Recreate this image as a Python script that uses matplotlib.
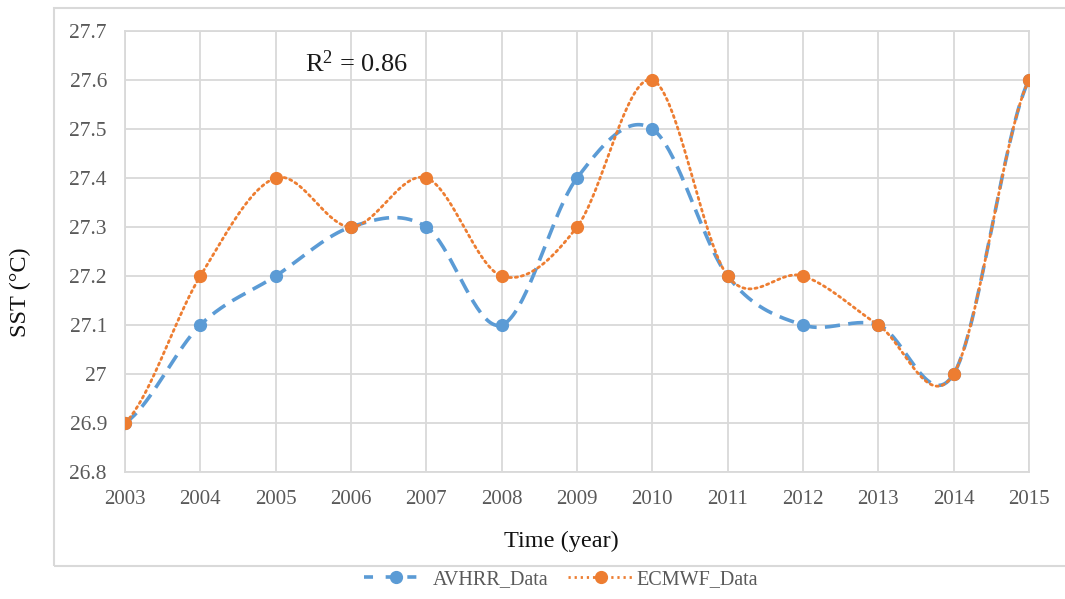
import numpy as np
import matplotlib
matplotlib.use("Agg")
import matplotlib.pyplot as plt
from matplotlib.patches import Rectangle
from matplotlib.lines import Line2D

years = [2003, 2004, 2005, 2006, 2007, 2008, 2009, 2010, 2011, 2012, 2013, 2014, 2015]
avhrr = [26.9, 27.1, 27.2, 27.3, 27.3, 27.1, 27.4, 27.5, 27.2, 27.1, 27.1, 27.0, 27.6]
ecmwf = [26.9, 27.2, 27.4, 27.3, 27.4, 27.2, 27.3, 27.6, 27.2, 27.2, 27.1, 27.0, 27.6]
y_ticks = [26.8, 26.9, 27.0, 27.1, 27.2, 27.3, 27.4, 27.5, 27.6, 27.7]
r2_label = r"R$^{2}$ = 0.86"

BLUE = "#5B9BD5"
ORANGE = "#ED7D31"
GRID = "#D9D9D9"
TXT = "#595959"

plt.rcParams['font.family'] = ['Liberation Serif', 'DejaVu Serif']
plt.rcParams['mathtext.fontset'] = 'custom'
plt.rcParams['mathtext.rm'] = 'Liberation Serif'
plt.rcParams['mathtext.it'] = 'Liberation Serif:italic'


def smooth(x, y, n=40):
    """Catmull-Rom style smoothing (like Excel's smoothed line) for rendering."""
    x = np.asarray(x, float)
    y = np.asarray(y, float)
    m = np.zeros_like(y)
    m[1:-1] = (y[2:] - y[:-2]) / (x[2:] - x[:-2])
    m[0] = (y[1] - y[0]) / (x[1] - x[0]) * 0.5
    m[-1] = (y[-1] - y[-2]) / (x[-1] - x[-2]) * 0.5
    xs, ys = [], []
    for i in range(len(x) - 1):
        h = x[i + 1] - x[i]
        t = np.linspace(0, 1, n, endpoint=(i == len(x) - 2))
        h00 = 2 * t**3 - 3 * t**2 + 1
        h10 = t**3 - 2 * t**2 + t
        h01 = -2 * t**3 + 3 * t**2
        h11 = t**3 - t**2
        xs.append(x[i] + t * h)
        ys.append(h00 * y[i] + h10 * h * m[i] + h01 * y[i + 1] + h11 * h * m[i + 1])
    return np.concatenate(xs), np.concatenate(ys)


fig = plt.figure(figsize=(10.65, 5.99), dpi=100)

# outer chart border (extends beyond right edge like the reference crop)
fig.patches.append(Rectangle((54 / 1065, 33 / 599), 1.1, (566 - 8) / 599,
                             transform=fig.transFigure, fill=False,
                             edgecolor=GRID, linewidth=1.5, clip_on=False))

ax = fig.add_axes([125 / 1065, 127 / 599, (1029 - 125) / 1065, (472 - 31) / 599])

sx, sy = smooth(years, avhrr)
ax.plot(sx, sy, color=BLUE, lw=2.6, dashes=(4.2, 2.3), zorder=3)
ax.plot(years, avhrr, 'o', color=BLUE, ms=8.5, zorder=4)

sx, sy = smooth(years, ecmwf)
ax.plot(sx, sy, color=ORANGE, lw=2.0, linestyle=(0, (0.8, 1.4)),
        dash_capstyle='round', zorder=3)
ax.plot(years, ecmwf, 'o', color=ORANGE, ms=8.5, zorder=5)

ax.set_xlim(years[0], years[-1])
ax.set_ylim(y_ticks[0], y_ticks[-1])
ax.set_xticks(years)
ax.set_xticklabels([str(y) for y in years])
ax.set_yticks(y_ticks)
ax.set_yticklabels([f"{v:g}" for v in np.round(y_ticks, 1)])
ax.grid(True, color=GRID, lw=1.3)
ax.set_axisbelow(True)
for s in ax.spines.values():
    s.set_color(GRID)
    s.set_linewidth(1.3)
ax.tick_params(length=0, labelcolor=TXT)
ax.tick_params(axis='x', pad=13, labelsize=15)
ax.tick_params(axis='y', pad=13, labelsize=15.5)

ax.text(0.199, 0.907, r2_label, transform=ax.transAxes, fontsize=19,
        color="#1a1a1a", va='baseline', ha='left')

fig.text(0.0195, 0.512, "SST (°C)", rotation=90, fontsize=17.5,
         ha='center', va='center', color="#111111")
fig.text(0.527, 0.096, "Time (year)", fontsize=17.5, ha='center', va='center',
         color="#111111")

handles = [
    Line2D([], [], color=BLUE, lw=2.6, dashes=(2.5, 3.5), marker='o', ms=8.5),
    Line2D([], [], color=ORANGE, lw=2.0, linestyle=(0, (0.8, 1.4)),
           marker='o', ms=8.5),
]
fig.legend(handles, ["AVHRR_Data", "ECMWF_Data"], loc='center',
           bbox_to_anchor=(0.527, 0.032), ncol=2, frameon=False,
           fontsize=14.5, labelcolor=TXT, handlelength=3.2, columnspacing=1.0,
           handletextpad=0.2)

fig.savefig("out.png", dpi=100)
